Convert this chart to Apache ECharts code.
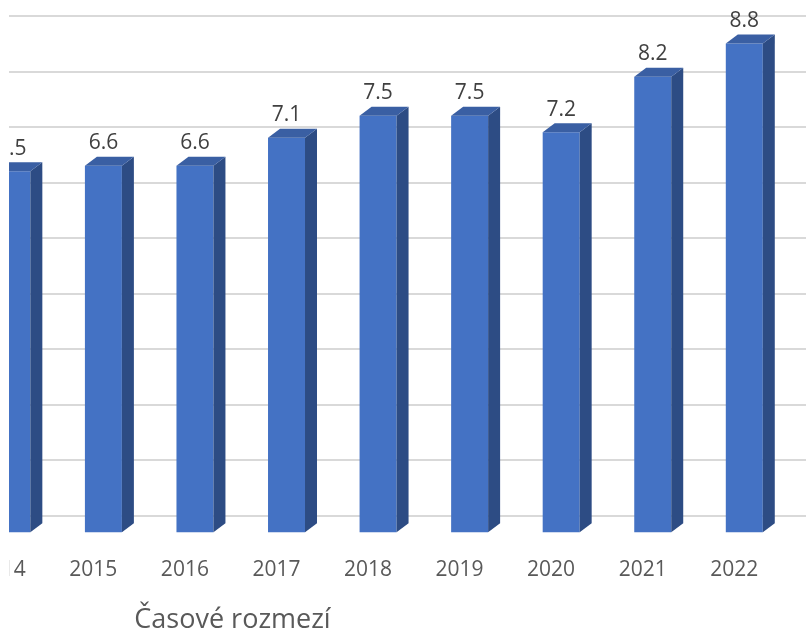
<!DOCTYPE html>
<html><head><meta charset="utf-8">
<script src="https://cdn.jsdelivr.net/npm/echarts@6/dist/echarts.min.js"></script>
<style>html,body{margin:0;padding:0;background:#fff;overflow:hidden}#c{width:806px;height:638px}</style>
</head><body><div id="c"></div>
<script>
const years = ['2014', '2015', '2016', '2017', '2018', '2019', '2020', '2021', '2022'];
const values = [6.5, 6.6, 6.6, 7.1, 7.5, 7.5, 7.2, 8.2, 8.8];
const yMin = 0, yMax = 9, yInterval = 1;
const axisTitle = 'Časové rozmezí';

const FONT = '"Open Sans", "DejaVu Sans", sans-serif';
const chart = echarts.init(document.getElementById('c'), null, {renderer: 'canvas'});

const option = {
  backgroundColor: '#ffffff',
  animation: false,
  grid: [
    {left: -44, width: 824, top: 15.7, height: 500, outerBoundsMode: 'none', containLabel: false},
    {left: 9, right: 0, top: 15.7, height: 500, outerBoundsMode: 'none', containLabel: false}
  ],
  xAxis: [
    {type: 'category', gridIndex: 0, data: years,
     axisLine: {show: false}, axisTick: {show: false},
     axisLabel: {color: '#595959', fontSize: 21, fontFamily: FONT, margin: 44, hideOverlap: false, showMinLabel: true, showMaxLabel: true, interval: 0}},
    {type: 'value', gridIndex: 1, show: false, min: 0, max: 1}
  ],
  yAxis: [
    {type: 'value', gridIndex: 0, min: yMin, max: yMax, interval: yInterval, show: false, splitLine: {show: false}},
    {type: 'value', gridIndex: 1, min: yMin, max: yMax, interval: yInterval,
     axisLine: {show: false}, axisTick: {show: false}, axisLabel: {show: false},
     splitLine: {show: true, lineStyle: {color: '#D9D9D9', width: 2}}}
  ],
  series: [{
    type: 'custom',
    xAxisIndex: 0, yAxisIndex: 0,
    data: years.map((y, i) => [i, values[i]]),
    clip: false,
    renderItem: function (params, api) {
      const i = api.value(0), v = api.value(1);
      const top = api.coord([i, v]);
      const base = api.coord([i, 0]);
      const band = api.size([1, 0])[0];
      const w = band * 0.404;
      const shift = band * 0.11;
      const dx = band * 0.131, dy = 9, drop = 16.6;
      const cx = top[0] + shift;
      const x0 = cx - w / 2, x1 = cx + w / 2;
      const yt = top[1] + drop, yb = base[1] + drop;
      return {
        type: 'group',
        children: [
          {type: 'rect', shape: {x: x0, y: yt, width: w, height: yb - yt}, style: {fill: '#4472C4'}},
          {type: 'polygon', shape: {points: [[x1, yt], [x1 + dx, yt - dy], [x1 + dx, yb - dy], [x1, yb]]}, style: {fill: '#2D4C84'}},
          {type: 'polygon', shape: {points: [[x0, yt], [x1, yt], [x1 + dx, yt - dy], [x0 + dx, yt - dy]]}, style: {fill: '#3A5FA3'}},
          {type: 'text', style: {text: v.toFixed(1), x: cx, y: yt - 22.5, align: 'center', verticalAlign: 'middle',
            fontSize: 21, fontFamily: FONT, fill: '#404040'}}
        ]
      };
    }
  }],
  graphic: [
    {type: 'rect', left: 0, top: 0, z: 100, shape: {width: 9, height: 638}, style: {fill: '#ffffff'}},
    {type: 'text', x: 232.5, y: 620, z: 100,
     style: {text: axisTitle, fontSize: 27, fontFamily: FONT, fill: '#595959', align: 'center', verticalAlign: 'middle'}}
  ]
};
chart.setOption(option);
</script>
</body></html>
